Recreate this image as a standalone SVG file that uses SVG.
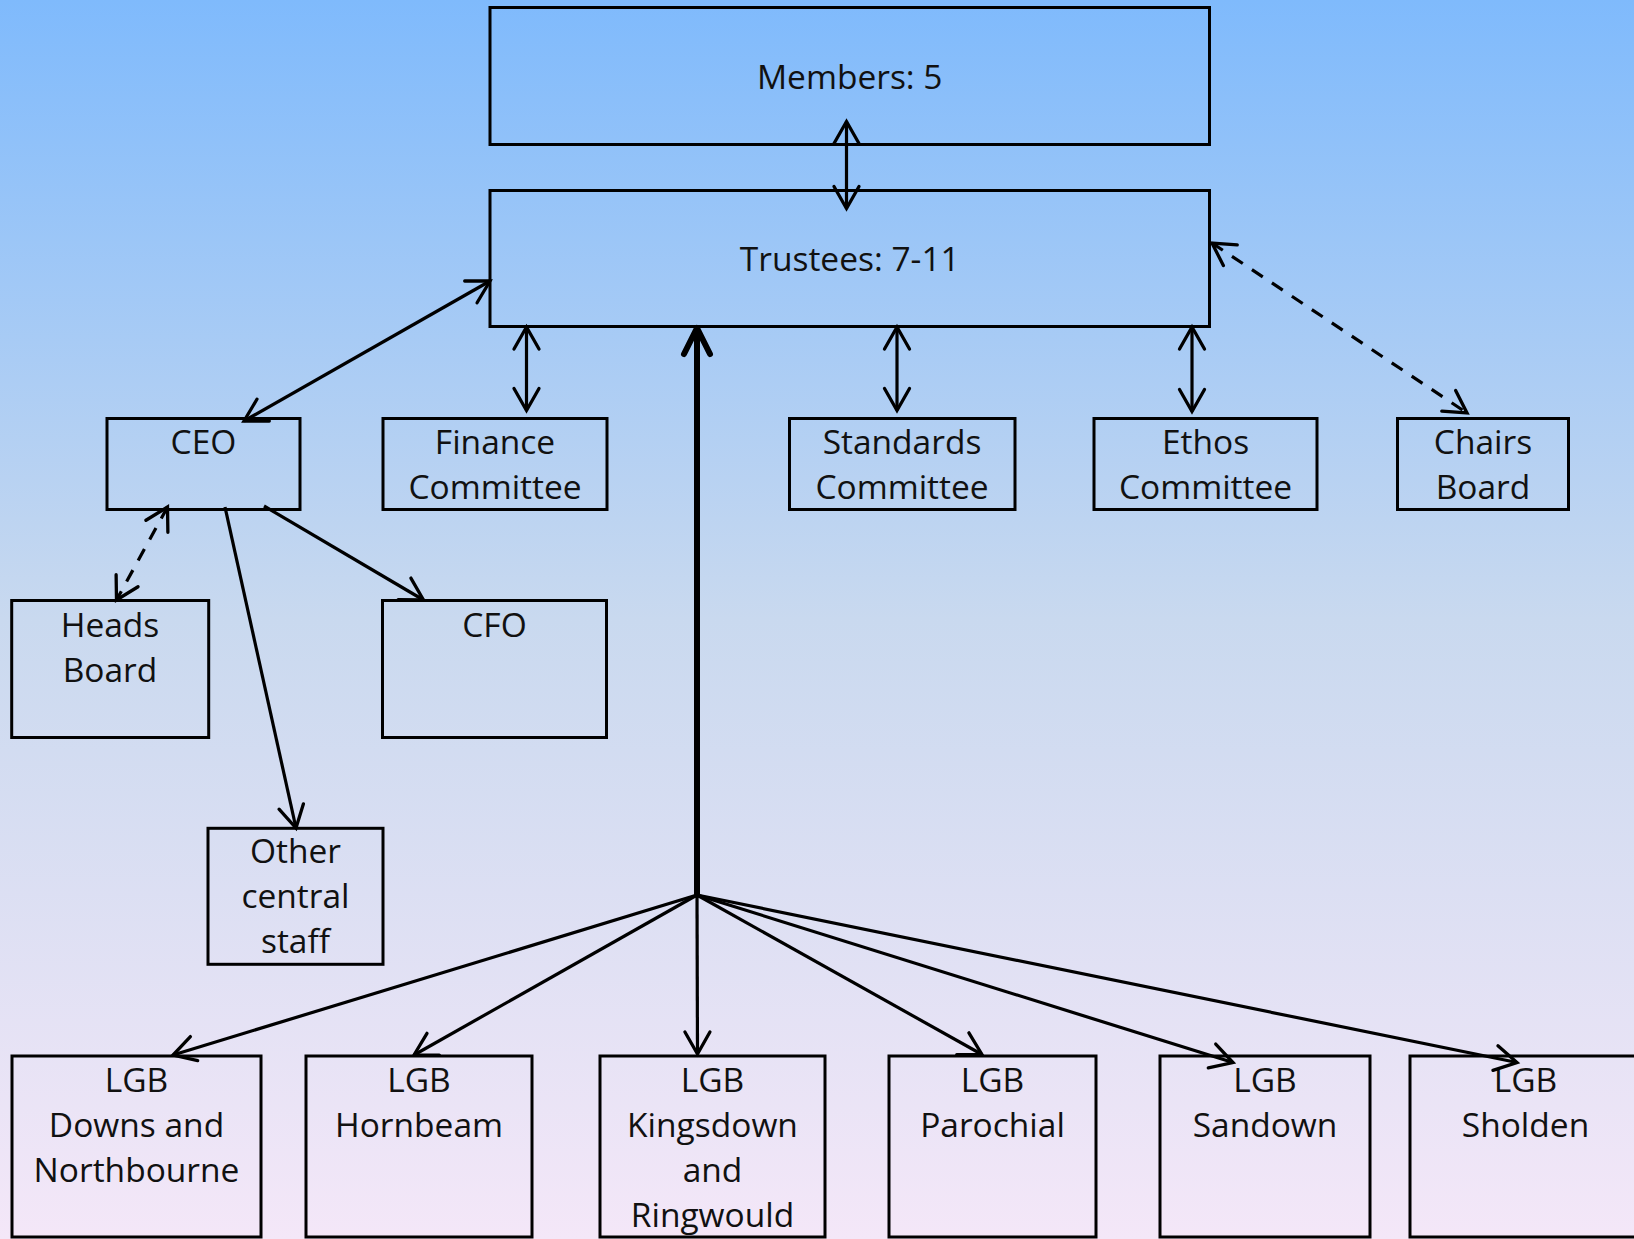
<svg xmlns="http://www.w3.org/2000/svg" width="1634" height="1239" viewBox="0 0 1634 1239">
  <defs>
    <linearGradient id="bg" x1="0" y1="0" x2="0" y2="1">
      <stop offset="0" stop-color="#7fbafc"/>
      <stop offset="0.5" stop-color="#c9d9ef"/>
      <stop offset="1" stop-color="#f4e7f8"/>
    </linearGradient>
    <marker id="ah" markerUnits="userSpaceOnUse" markerWidth="40" markerHeight="40" viewBox="-30 -20 40 40" refX="0" refY="0" orient="auto-start-reverse" overflow="visible">
      <path d="M-22,-12.5 L0,0 L-22,12.5" fill="none" stroke="#000" stroke-width="3.3" stroke-linecap="round" stroke-linejoin="miter"/>
    </marker>
    <marker id="ahThick" markerUnits="userSpaceOnUse" markerWidth="50" markerHeight="50" viewBox="-40 -25 50 50" refX="0" refY="0" orient="auto" overflow="visible">
      <path d="M-26,-13 L0,0 L-26,13" fill="none" stroke="#000" stroke-width="6" stroke-linecap="round" stroke-linejoin="round"/>
    </marker>
  </defs>
  <style>
    .box { fill: none; stroke: #000; stroke-width: 3; }
    .lbl { font-family: "Open Sans", "Noto Sans", "DejaVu Sans", sans-serif; font-size: 33.5px; fill: #111; text-anchor: middle; }
    .c { fill: none; stroke: #000; stroke-width: 3.2; }
    .dash { stroke-dasharray: 13 11; }
    .both { marker-start: url(#ah); marker-end: url(#ah); }
    .end { marker-end: url(#ah); }
  </style>
  <rect x="0" y="0" width="1634" height="1239" fill="url(#bg)"/>

  <g id="members"><rect class="box" x="490" y="7.5" width="719.5" height="137"/><text class="lbl" x="849.75" y="89">Members: 5</text></g>
  <g id="trustees"><rect class="box" x="490" y="190.5" width="719.5" height="136"/><text class="lbl" x="849.75" y="271">Trustees: 7-11</text></g>
  <g id="ceo"><rect class="box" x="107" y="418.5" width="193" height="91"/><text class="lbl" x="203.5" y="454">CEO</text></g>
  <g id="finance"><rect class="box" x="383" y="418.5" width="224" height="91"/><text class="lbl" x="495" y="453.5">Finance</text><text class="lbl" x="495" y="498.5">Committee</text></g>
  <g id="standards"><rect class="box" x="789.5" y="418.5" width="225.5" height="91"/><text class="lbl" x="902" y="453.5">Standards</text><text class="lbl" x="902" y="498.5">Committee</text></g>
  <g id="ethos"><rect class="box" x="1094" y="418.5" width="223" height="91"/><text class="lbl" x="1205.5" y="453.5">Ethos</text><text class="lbl" x="1205.5" y="498.5">Committee</text></g>
  <g id="chairs"><rect class="box" x="1397.5" y="418.5" width="171" height="91"/><text class="lbl" x="1483" y="453.5">Chairs</text><text class="lbl" x="1483" y="498.5">Board</text></g>
  <g id="heads"><rect class="box" x="11.7" y="600.5" width="197" height="137"/><text class="lbl" x="110" y="636.5">Heads</text><text class="lbl" x="110" y="681.5">Board</text></g>
  <g id="cfo"><rect class="box" x="382.5" y="600.5" width="224" height="137"/><text class="lbl" x="494.5" y="636.5">CFO</text></g>
  <g id="other"><rect class="box" x="208" y="828.3" width="175" height="136"/><text class="lbl" x="295.5" y="863">Other</text><text class="lbl" x="295.5" y="908">central</text><text class="lbl" x="295.5" y="953">staff</text></g>
  <g id="lgb-downs"><rect class="box" x="12" y="1056" width="249" height="181"/><text class="lbl" x="136.5" y="1092">LGB</text><text class="lbl" x="136.5" y="1137">Downs and</text><text class="lbl" x="136.5" y="1182">Northbourne</text></g>
  <g id="lgb-hornbeam"><rect class="box" x="306" y="1056" width="226" height="181"/><text class="lbl" x="419" y="1092">LGB</text><text class="lbl" x="419" y="1137">Hornbeam</text></g>
  <g id="lgb-kingsdown"><rect class="box" x="600" y="1056" width="225" height="181"/><text class="lbl" x="712.5" y="1092">LGB</text><text class="lbl" x="712.5" y="1137">Kingsdown</text><text class="lbl" x="712.5" y="1182">and</text><text class="lbl" x="712.5" y="1227">Ringwould</text></g>
  <g id="lgb-parochial"><rect class="box" x="889" y="1056" width="207" height="181"/><text class="lbl" x="992.5" y="1092">LGB</text><text class="lbl" x="992.5" y="1137">Parochial</text></g>
  <g id="lgb-sandown"><rect class="box" x="1160" y="1056" width="210" height="181"/><text class="lbl" x="1265" y="1092">LGB</text><text class="lbl" x="1265" y="1137">Sandown</text></g>
  <g id="lgb-sholden"><rect class="box" x="1410" y="1056" width="231" height="181"/><text class="lbl" x="1525.5" y="1092">LGB</text><text class="lbl" x="1525.5" y="1137">Sholden</text></g>

  <g id="connectors">
    <line class="c both" x1="846.5" y1="121.5" x2="846.5" y2="208.5"/>
    <line class="c both" x1="526.5" y1="327" x2="526.5" y2="410.5"/>
    <line class="c both" x1="897" y1="327" x2="897" y2="410.5"/>
    <line class="c both" x1="1192" y1="327" x2="1192" y2="411.5"/>
    <line class="c both dash" x1="1212" y1="243" x2="1467" y2="413"/>
    <line class="c both" x1="490" y1="281" x2="244" y2="421"/>
    <line class="c both dash" x1="167.5" y1="507" x2="116.5" y2="600"/>
    <line class="c end" x1="225" y1="507" x2="296" y2="828"/>
    <line class="c end" x1="264" y1="506" x2="423.5" y2="600"/>
    <line fill="none" stroke="#000" stroke-width="6" stroke-linecap="round" marker-end="url(#ahThick)" x1="697" y1="895" x2="697" y2="328"/>
    <line class="c end" x1="697" y1="895" x2="173" y2="1055"/>
    <line class="c end" x1="697" y1="895" x2="414" y2="1055"/>
    <line class="c end" x1="697" y1="895" x2="697.5" y2="1054"/>
    <line class="c end" x1="697" y1="895" x2="982" y2="1054.5"/>
    <line class="c end" x1="697" y1="895" x2="1233" y2="1062.5"/>
    <line class="c end" x1="697" y1="895" x2="1517" y2="1062.5"/>
  </g>
</svg>
